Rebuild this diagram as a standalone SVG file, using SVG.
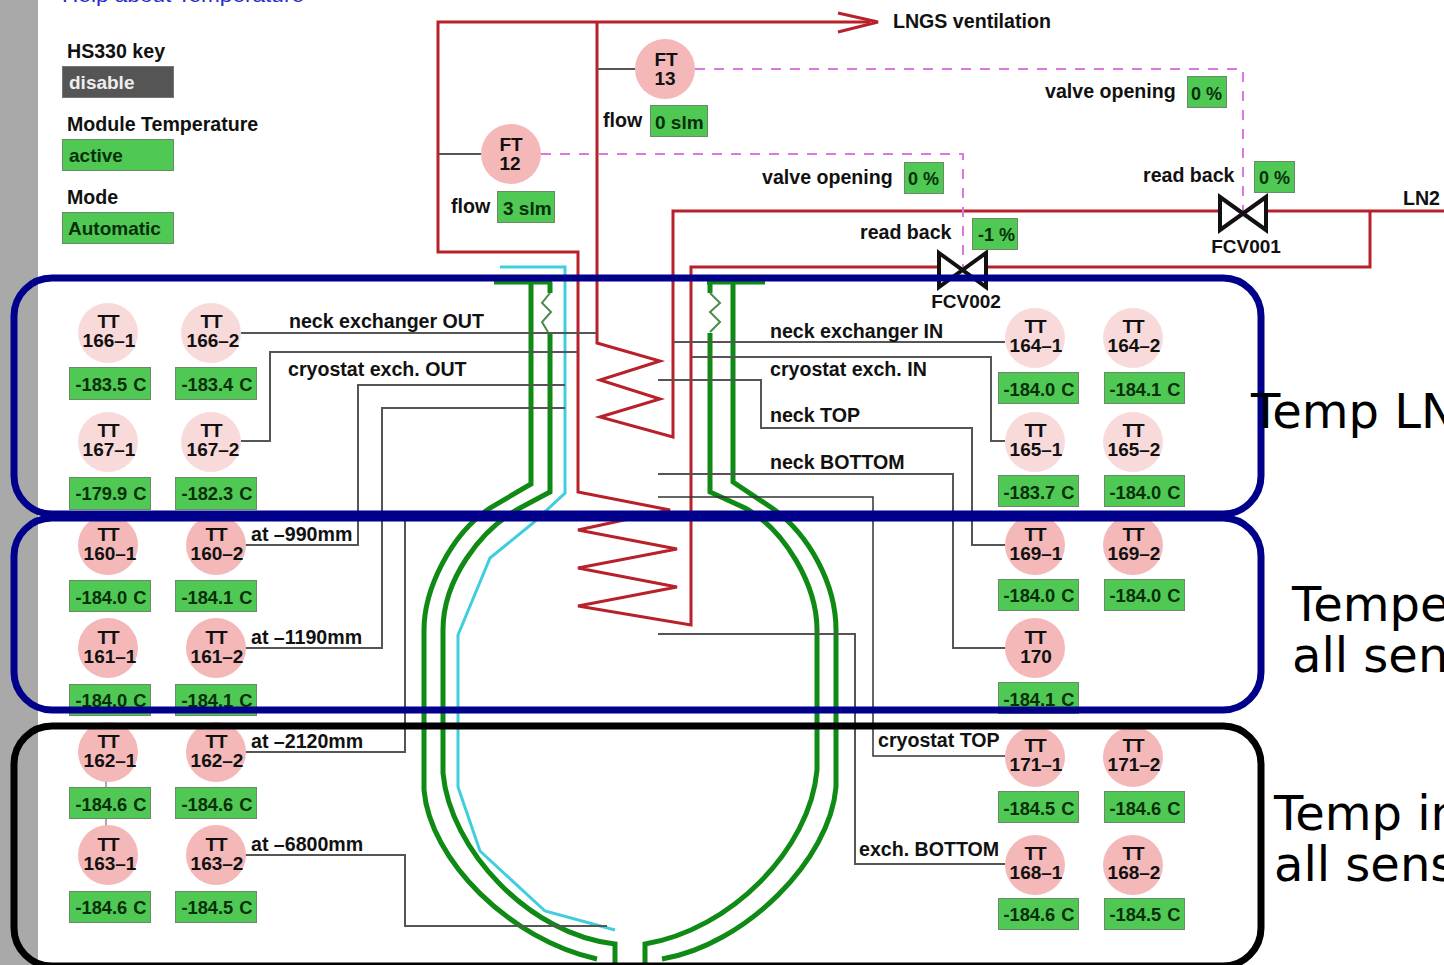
<svg xmlns="http://www.w3.org/2000/svg" width="1444" height="965" viewBox="0 0 1444 965">
<style>
text{font-family:"Liberation Sans",Arial,sans-serif;font-weight:bold;font-size:19.6px;fill:#111}
.big{font-family:"DejaVu Sans",sans-serif;font-weight:normal;font-size:48px;fill:#000}
.help{fill:#2a2acb;font-weight:normal}
.pipe{fill:none;stroke:#b8202a;stroke-width:3}
.green{fill:none;stroke:#0f8a14;stroke-width:5}
.zig{fill:none;stroke:#4d8a4d;stroke-width:2}
.cyan{fill:none;stroke:#3fcfdc;stroke-width:3}
.sig{fill:none;stroke:#555;stroke-width:2}
.thin{fill:none;stroke:#333;stroke-width:1.500}
.dash{fill:none;stroke:#d878e0;stroke-width:2;stroke-dasharray:10 9}
.frame{fill:none;stroke:#00008b;stroke-width:7}
.frame2{fill:none;stroke:#000;stroke-width:7}
.c1{fill:#f5b8b8}
.c2{fill:#f9dada}
.box{fill:#4fc854;stroke:#6a8a6a;stroke-width:1}
.off{fill:#555;stroke:#777;stroke-width:1}
.m{text-anchor:middle;font-size:19px}
.b{fill:#07300a;font-size:19px}
.m.b{font-size:18.300px;word-spacing:1px}
.p{font-size:18px}
.t{letter-spacing:-1px}
.valve{fill:#fff;stroke:#111;stroke-width:4}
</style>
<rect width="1444" height="965" fill="#fff"/>
<rect width="38" height="965" fill="#a9a9a9"/>
<text class="help" x="62" y="2" textLength="242" lengthAdjust="spacingAndGlyphs">Help about Temperature</text>

<g id="status">
<text x="67" y="58">HS330 key</text>
<rect class="off" x="62.500" y="66.500" width="111" height="31"/>
<text x="69" y="89" style="fill:#eee;font-size:19px">disable</text>
<text x="67" y="131">Module Temperature</text>
<rect class="box" x="62.500" y="139.500" width="111" height="31"/>
<text class="b" x="69" y="162">active</text>
<text x="67" y="204">Mode</text>
<rect class="box" x="62.500" y="212.500" width="111" height="31"/>
<text class="b" x="68" y="235">Automatic</text>
</g>

<g id="connectors">
<path class="cyan" d="M500 267H565V493L533 523L490 558L458 635V787L480 851L545 911L615 930"/>
<path class="green" d="M531 283V484L490 508C450 535 424 590 424 630V790C430 860 510 940 597 959"/>
<path class="green" d="M550 333V492L520 508C480 530 443 580 443 630V773C450 850 530 935 615 944V965"/>
<path class="green" d="M733 283V482L772 508C810 535 836 585 836 630V787C830 860 745 945 662 959"/>
<path class="green" d="M710 333V492L745 508C785 530 817 585 817 630V770C810 850 730 930 645 944V965"/>
<path class="green" d="M494 282H552M550 282V293M707 282H765M710 282V293"/>
<path class="zig" d="M550 293L542 303L551 312L542 322L548 332"/>
<path class="zig" d="M710 293L720 303L710 312L720 322L710 332"/>
<path class="pipe" d="M870 22H438V252H578V492L670 510L578 530L677 549L578 568L677 587L578 606L691 625V267H938"/>
<path class="pipe" d="M597 22V343L660 361L600 380L660 399L600 417L673 437V211H1219"/>
<path class="pipe" d="M1267 211H1444M986 267H1370V211"/>
<path class="pipe" d="M838 13L878 22L838 32"/>
<path class="sig" d="M597 69H635M438 154H481"/>
<path class="dash" d="M695 69H1243V211"/>
<path class="dash" d="M541 154H963V267"/>
<path class="sig" d="M241 333H597"/>
<path class="sig" d="M241 441H270V352H578"/>
<path class="sig" d="M245 545H358V385H565"/>
<path class="sig" d="M245 648H382V408H565"/>
<path class="sig" d="M245 752H405V515"/>
<path class="sig" d="M245 855H405V926H607"/>
<path class="sig" d="M1005 342H673"/>
<path class="sig" d="M1005 441H991V357H692"/>
<path class="sig" d="M1005 545H972V428H761V380H658"/>
<path class="sig" d="M1007 648H953V474H658"/>
<path class="thin" d="M1005 756H873V497H658"/>
<path class="sig" d="M1005 864H855V634H658"/>
<path class="sig" d="M106 780V835" style="stroke-width:1"/>
</g>

<g id="FT13"><circle class="c1" cx="665" cy="69" r="30"/><text class="m" x="666" y="66">FT</text><text class="m" x="665" y="85">13</text>
<text x="603" y="127">flow</text><rect class="box" x="650.500" y="105.500" width="57" height="31"/><text class="b" x="655" y="129">0 slm</text></g>
<g id="FT12"><circle class="c1" cx="511" cy="154" r="30"/><text class="m" x="511" y="151">FT</text><text class="m" x="510" y="170">12</text>
<text x="451" y="213">flow</text><rect class="box" x="497.500" y="191.500" width="57" height="31"/><text class="b" x="503" y="215">3 slm</text></g>

<g id="FCV001"><path class="valve" d="M1220 197L1266 230V197L1220 230Z"/><text class="m" x="1246" y="253">FCV001</text></g>
<g id="FCV002"><path class="valve" d="M939 253L986 287V253L939 287Z"/><text class="m" x="966" y="308">FCV002</text></g>

<g id="valve-values">
<text x="1045" y="98">valve opening</text><rect class="box" x="1187.500" y="76.500" width="39" height="31"/><text class="b p" x="1191" y="100">0 %</text>
<text x="762" y="184">valve opening</text><rect class="box" x="904.500" y="162.500" width="39" height="31"/><text class="b p" x="908" y="185">0 %</text>
<text x="1143" y="182">read back</text><rect class="box" x="1254.500" y="161.500" width="40" height="31"/><text class="b p" x="1259" y="184">0 %</text>
<text x="860" y="239">read back</text><rect class="box" x="972.500" y="218.500" width="45" height="31"/><text class="b p" x="978" y="241">-1 %</text>
<text x="893" y="28">LNGS ventilation</text>
<text x="1403" y="205">LN2</text>
</g>

<g id="labels">
<text x="289" y="328">neck exchanger OUT</text>
<text x="288" y="376">cryostat exch. OUT</text>
<text x="251" y="541">at –990mm</text>
<text x="251" y="644">at –1190mm</text>
<text x="251" y="748">at –2120mm</text>
<text x="251" y="851">at –6800mm</text>
<text x="770" y="338">neck exchanger IN</text>
<text x="770" y="376">cryostat exch. IN</text>
<text x="770" y="422">neck TOP</text>
<text x="770" y="469">neck BOTTOM</text>
<text x="878" y="747">cryostat TOP</text>
<text x="859" y="856">exch. BOTTOM</text>
</g>

<g id="TT166-1"><circle class="c2" cx="108" cy="333" r="30"/><text class="m t" x="108" y="328">TT</text><text class="m" x="109" y="347">166–1</text><rect class="box" x="69.500" y="367.500" width="81" height="32"/><text class="m b" x="111" y="391">-183.5 C</text></g>
<g id="TT166-2"><circle class="c2" cx="211" cy="333" r="30"/><text class="m t" x="211" y="328">TT</text><text class="m" x="213" y="347">166–2</text><rect class="box" x="175.500" y="367.500" width="81" height="32"/><text class="m b" x="217" y="391">-183.4 C</text></g>
<g id="TT167-1"><circle class="c2" cx="108" cy="442" r="30"/><text class="m t" x="108" y="437">TT</text><text class="m" x="109" y="456">167–1</text><rect class="box" x="69.500" y="477.500" width="81" height="32"/><text class="m b" x="111" y="500">-179.9 C</text></g>
<g id="TT167-2"><circle class="c2" cx="211" cy="442" r="30"/><text class="m t" x="211" y="437">TT</text><text class="m" x="213" y="456">167–2</text><rect class="box" x="175.500" y="477.500" width="81" height="32"/><text class="m b" x="217" y="500">-182.3 C</text></g>
<g id="TT160-1"><circle class="c1" cx="108" cy="545" r="30"/><text class="m t" x="108" y="541">TT</text><text class="m" x="110" y="560">160–1</text><rect class="box" x="69.500" y="580.500" width="81" height="31"/><text class="m b" x="111" y="604">-184.0 C</text></g>
<g id="TT160-2"><circle class="c1" cx="216" cy="545" r="30"/><text class="m t" x="216" y="541">TT</text><text class="m" x="217" y="560">160–2</text><rect class="box" x="175.500" y="580.500" width="81" height="31"/><text class="m b" x="217" y="604">-184.1 C</text></g>
<g id="TT161-1"><circle class="c1" cx="108" cy="648" r="30"/><text class="m t" x="108" y="644">TT</text><text class="m" x="110" y="663">161–1</text><rect class="box" x="69.500" y="684.500" width="81" height="31"/><text class="m b" x="111" y="707">-184.0 C</text></g>
<g id="TT161-2"><circle class="c1" cx="216" cy="648" r="30"/><text class="m t" x="216" y="644">TT</text><text class="m" x="217" y="663">161–2</text><rect class="box" x="175.500" y="684.500" width="81" height="31"/><text class="m b" x="217" y="707">-184.1 C</text></g>
<g id="TT162-1"><circle class="c1" cx="108" cy="752" r="30"/><text class="m t" x="108" y="748">TT</text><text class="m" x="110" y="767">162–1</text><rect class="box" x="69.500" y="787.500" width="81" height="31"/><text class="m b" x="111" y="811">-184.6 C</text></g>
<g id="TT162-2"><circle class="c1" cx="216" cy="752" r="30"/><text class="m t" x="216" y="748">TT</text><text class="m" x="217" y="767">162–2</text><rect class="box" x="175.500" y="787.500" width="81" height="31"/><text class="m b" x="217" y="811">-184.6 C</text></g>
<g id="TT163-1"><circle class="c1" cx="108" cy="855" r="30"/><text class="m t" x="108" y="851">TT</text><text class="m" x="110" y="870">163–1</text><rect class="box" x="69.500" y="891.500" width="81" height="31"/><text class="m b" x="111" y="914">-184.6 C</text></g>
<g id="TT163-2"><circle class="c1" cx="216" cy="855" r="30"/><text class="m t" x="216" y="851">TT</text><text class="m" x="217" y="870">163–2</text><rect class="box" x="175.500" y="891.500" width="81" height="31"/><text class="m b" x="217" y="914">-184.5 C</text></g>

<g id="TT164-1"><circle class="c2" cx="1035" cy="338" r="30"/><text class="m t" x="1035" y="333">TT</text><text class="m" x="1036" y="352">164–1</text><rect class="box" x="998.500" y="372.500" width="80" height="31"/><text class="m b" x="1039" y="396">-184.0 C</text></g>
<g id="TT164-2"><circle class="c2" cx="1133" cy="338" r="30"/><text class="m t" x="1133" y="333">TT</text><text class="m" x="1134" y="352">164–2</text><rect class="box" x="1104.500" y="372.500" width="80" height="31"/><text class="m b" x="1145" y="396">-184.1 C</text></g>
<g id="TT165-1"><circle class="c2" cx="1035" cy="442" r="30"/><text class="m t" x="1035" y="437">TT</text><text class="m" x="1036" y="456">165–1</text><rect class="box" x="998.500" y="475.500" width="80" height="31"/><text class="m b" x="1039" y="499">-183.7 C</text></g>
<g id="TT165-2"><circle class="c2" cx="1133" cy="442" r="30"/><text class="m t" x="1133" y="437">TT</text><text class="m" x="1134" y="456">165–2</text><rect class="box" x="1104.500" y="475.500" width="80" height="31"/><text class="m b" x="1145" y="499">-184.0 C</text></g>
<g id="TT169-1"><circle class="c1" cx="1035" cy="545" r="30"/><text class="m t" x="1035" y="541">TT</text><text class="m" x="1036" y="560">169–1</text><rect class="box" x="998.500" y="579.500" width="80" height="31"/><text class="m b" x="1039" y="602">-184.0 C</text></g>
<g id="TT169-2"><circle class="c1" cx="1133" cy="545" r="30"/><text class="m t" x="1133" y="541">TT</text><text class="m" x="1134" y="560">169–2</text><rect class="box" x="1104.500" y="579.500" width="80" height="31"/><text class="m b" x="1145" y="602">-184.0 C</text></g>
<g id="TT170"><circle class="c1" cx="1035" cy="648" r="30"/><text class="m t" x="1035" y="644">TT</text><text class="m" x="1036" y="663">170</text><rect class="box" x="998.500" y="682.500" width="80" height="31"/><text class="m b" x="1039" y="706">-184.1 C</text></g>
<g id="TT171-1"><circle class="c1" cx="1035" cy="757" r="30"/><text class="m t" x="1035" y="752">TT</text><text class="m" x="1036" y="771">171–1</text><rect class="box" x="998.500" y="791.500" width="80" height="31"/><text class="m b" x="1039" y="815">-184.5 C</text></g>
<g id="TT171-2"><circle class="c1" cx="1133" cy="757" r="30"/><text class="m t" x="1133" y="752">TT</text><text class="m" x="1134" y="771">171–2</text><rect class="box" x="1104.500" y="791.500" width="80" height="31"/><text class="m b" x="1145" y="815">-184.6 C</text></g>
<g id="TT168-1"><circle class="c1" cx="1035" cy="865" r="30"/><text class="m t" x="1035" y="860">TT</text><text class="m" x="1036" y="879">168–1</text><rect class="box" x="998.500" y="898.500" width="80" height="31"/><text class="m b" x="1039" y="921">-184.6 C</text></g>
<g id="TT168-2"><circle class="c1" cx="1133" cy="865" r="30"/><text class="m t" x="1133" y="860">TT</text><text class="m" x="1134" y="879">168–2</text><rect class="box" x="1104.500" y="898.500" width="80" height="31"/><text class="m b" x="1145" y="921">-184.5 C</text></g>

<g id="frames">
<rect class="frame" x="14" y="278" width="1247" height="236" rx="38"/>
<rect class="frame" x="14" y="518" width="1247" height="192" rx="38"/>
<rect class="frame2" x="14" y="726" width="1247" height="240" rx="38"/>
</g>
<g id="notes">
<text class="big" x="1251" y="428">Temp LN</text>
<text class="big" x="1292" y="621">Tempe</text>
<text class="big" x="1292" y="672">all sen</text>
<text class="big" x="1274" y="830">Temp in</text>
<text class="big" x="1274" y="881">all sens</text>
</g>
</svg>
